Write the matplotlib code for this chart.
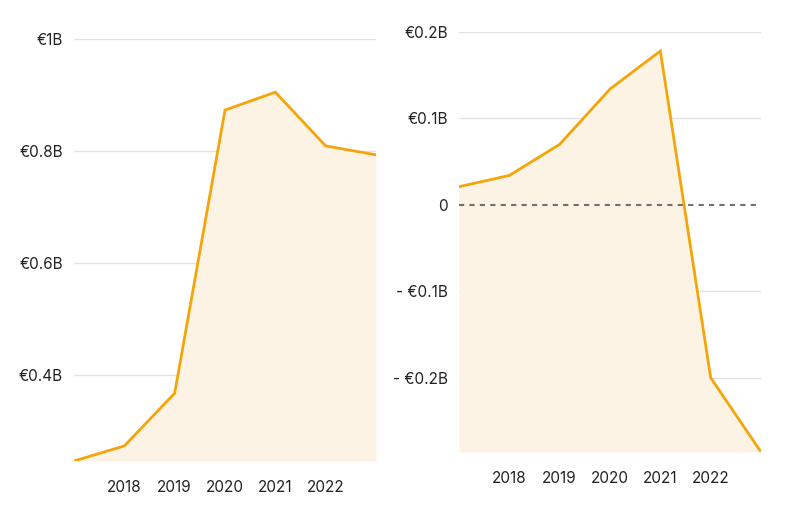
import matplotlib.pyplot as plt

plt.rcParams['font.family'] = ['Inter', 'DejaVu Sans']

# years and values (in billions of euro)
years = [2017, 2018, 2019, 2020, 2021, 2022, 2023]
tick_years = [2018, 2019, 2020, 2021, 2022]

left_values = [0.246, 0.273, 0.367, 0.873, 0.905, 0.809, 0.793]
left_ticks = [0.4, 0.6, 0.8, 1.0]
left_labels = ['€0.4B', '€0.6B', '€0.8B', '€1B']

right_values = [0.021, 0.034, 0.070, 0.134, 0.178, -0.200, -0.286]
right_ticks = [-0.2, -0.1, 0.0, 0.1, 0.2]
right_labels = ['- €0.2B', '- €0.1B', '0', '€0.1B', '€0.2B']

line_color = '#F5A50A'
fill_color = '#FDF3E4'
grid_color = '#E2E2E2'

fig = plt.figure(figsize=(8.05, 5.16), dpi=100)
ax1 = fig.add_axes([74 / 805, 1 - 461 / 516, 302 / 805, 422 / 516])
ax2 = fig.add_axes([459 / 805, 1 - 452 / 516, 302 / 805, 420 / 516])


def style(ax, values, ticks, labels, ylim):
    ax.set_xlim(years[0], years[-1])
    ax.set_ylim(*ylim)
    for t in ticks:
        if t == 0:
            continue
        ax.axhline(t, color=grid_color, lw=1, zorder=0)
    ax.fill_between(years, values, ylim[0], color=fill_color, lw=0, zorder=1)
    ax.plot(years, values, color=line_color, lw=2, zorder=3, solid_joinstyle='miter')
    ax.set_yticks(ticks)
    ax.set_yticklabels(labels)
    ax.set_xticks(tick_years)
    ax.set_xticklabels([str(y) for y in tick_years])
    ax.tick_params(length=0, labelsize=11, colors='#222222')
    ax.tick_params(axis='y', pad=8)
    ax.tick_params(axis='x', pad=14)
    for s in ax.spines.values():
        s.set_visible(False)


style(ax1, left_values, left_ticks, left_labels, (0.246, 1.0))
style(ax2, right_values, right_ticks, right_labels, (-0.286, 0.2))
ax2.axhline(0, color='#707070', lw=1.5, ls=(0, (2.5, 2.5)), zorder=2)

fig.savefig('out.png', dpi=100)
